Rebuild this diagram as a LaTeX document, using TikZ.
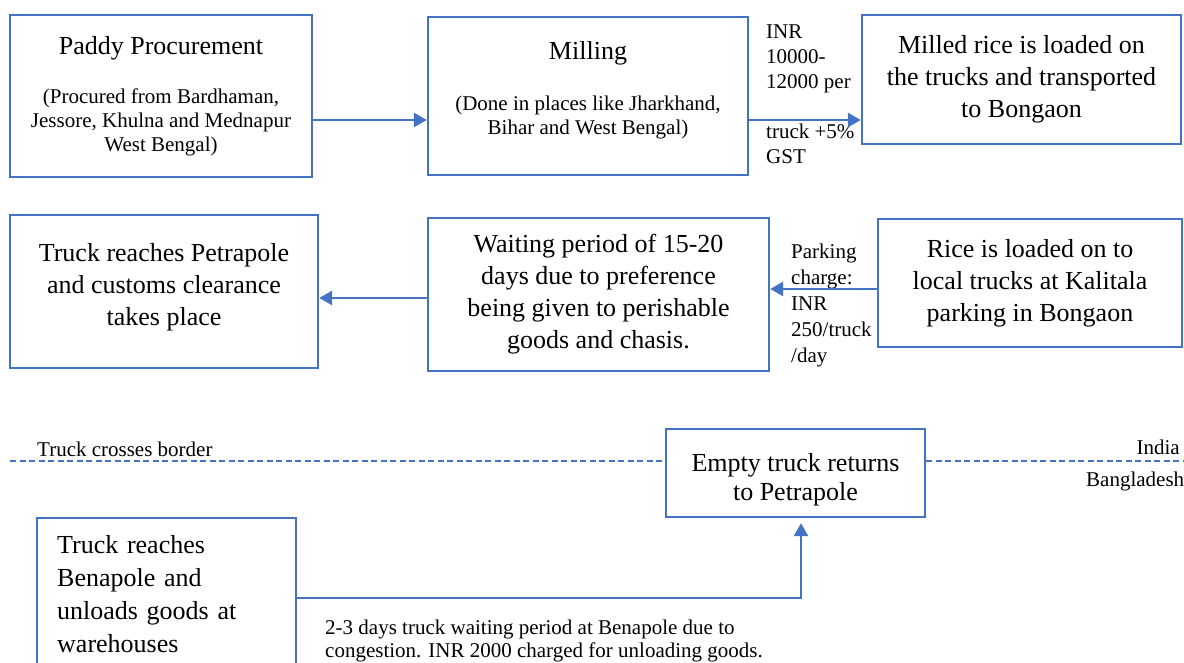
\documentclass[tikz,border=0pt]{standalone}
\usepackage{fontspec}
\setmainfont{Liberation Serif}
\usetikzlibrary{arrows.meta}
\definecolor{wordblue}{HTML}{4472C4}
\newcommand\boxtitlefont{\fontsize{26}{32}\selectfont}
\newcommand\boxsubfont{\fontsize{21}{24}\selectfont}
\newcommand\notefont{\fontsize{21}{25}\selectfont}

\begin{document}
\begin{tikzpicture}[x=1pt, y=-1pt,
  stage/.style={draw=wordblue, line width=2.4pt, align=center, inner sep=0pt, font=\boxtitlefont},
  flow/.style={-{Triangle[length=13pt,width=14pt]}, draw=wordblue, line width=2.8pt},
  borderline/.style={draw=wordblue, line width=1.3pt, dash pattern=on 6pt off 3.5pt},
  note/.style={align=left, inner sep=0pt, font=\notefont}]
\useasboundingbox (0,0) rectangle (1184,663);
% first row
\node[stage, minimum width=302, minimum height=162] (paddy) at (161,96) {Paddy Procurement\\[16.5pt]\parbox[t]{300pt}{\centering\boxsubfont (Procured from Bardhaman,\\Jessore, Khulna and Mednapur\\West Bengal)}};
\node[stage, minimum width=320, minimum height=158] (milling) at (588,96) {Milling\\[18.5pt]\parbox[t]{316pt}{\centering\boxsubfont (Done in places like Jharkhand,\\Bihar and West Bengal)\\[12pt]}};
\node[stage, minimum width=319, minimum height=129] (loaded) at (1021.5,79.5) {Milled rice is loaded on\\the trucks and transported\\to Bongaon\rule[-4pt]{0pt}{4pt}};
\node[note, anchor=base west] (truckcost) at (766,164) {INR\\10000-\\12000 per\\[25pt]truck +5\%\\GST};
\draw[flow] ([yshift=-24pt]paddy.east) -- ([yshift=-24pt]milling.west);
\draw[flow] ([yshift=-24pt]milling.east) -- ([yshift=-40.5pt]loaded.west);
% second row
\node[stage, minimum width=304, minimum height=128] (riceload) at (1030,283) {Rice is loaded on to\\local trucks at Kalitala\\parking in Bongaon\rule[-4pt]{0pt}{4pt}};
\node[stage, minimum width=341, minimum height=153] (waiting) at (598.5,294.5) {Waiting period of 15-20\\days due to preference\\being given to perishable\\goods and chasis.};
\node[stage, minimum width=308, minimum height=153] (petrapole) at (164,291.5) {Truck reaches Petrapole\\and customs clearance\\takes place\rule[-14pt]{0pt}{14pt}};
\node[note, anchor=base west, font=\fontsize{21}{26}\selectfont] (parking) at (791,362) {Parking\\charge:\\INR\\250/truck\\/day};
\draw[flow] ([yshift=-6pt]riceload.west) -- ([yshift=5.5pt]waiting.east);
\draw[flow] ([yshift=-3.5pt]waiting.west) -- ([yshift=-6.5pt]petrapole.east);
% border
\node[stage, minimum width=259, minimum height=88, font=\fontsize{26}{29}\selectfont] (empty) at (795.5,473) {\rule{0pt}{32pt}Empty truck returns\\to Petrapole};
\coordinate (borderL) at (10,461);
\coordinate (borderR) at (1184,461);
\draw[borderline] (borderL) -- (empty.west |- borderL);
\draw[borderline] (empty.east |- borderR) -- (borderR);
\node[note, anchor=base west] (crosses) at (37,456) {Truck crosses border};
\node[note, anchor=base east] (india) at (1180,454) {India};
\node[note, anchor=base west] (bangladesh) at (1086,486) {Bangladesh};
% third row
\node[stage, anchor=north west, align=left, text width=219pt, inner xsep=20pt, inner ysep=17pt, font=\fontsize{26}{33}\selectfont] (benapole) at (36,517) {Truck reaches\\Benapole and\\unloads goods at\\warehouses};
\coordinate (turn) at (801,598);
\draw[flow, shorten >=5pt] (benapole.east |- turn) -- (turn) -- (empty.south -| turn);
\node[note, anchor=base west, font=\fontsize{21}{23}\selectfont] (waitcost) at (325,657) {2-3 days truck waiting period at Benapole due to\\congestion. INR 2000 charged for unloading goods.};
\end{tikzpicture}
\end{document}
